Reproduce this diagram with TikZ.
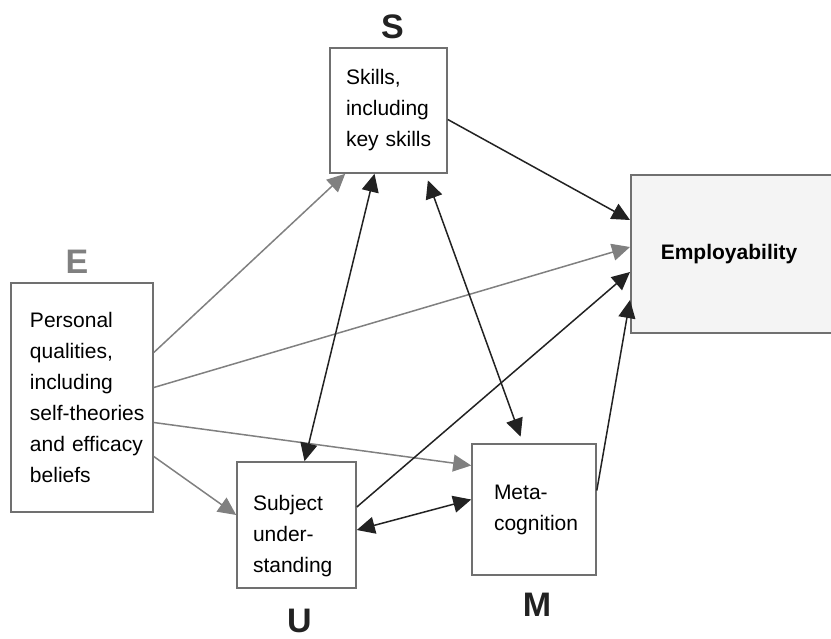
\documentclass[tikz,border=0pt]{standalone}
\usepackage{fontspec}
\setmainfont{Liberation Sans}
\usepackage{xcolor}
\usetikzlibrary{arrows.meta}
\definecolor{framegray}{HTML}{707070}
\definecolor{linegray}{HTML}{808080}
\definecolor{linedark}{HTML}{222222}
\definecolor{empfill}{HTML}{F4F4F4}
\hyphenpenalty=10000
\exhyphenpenalty=10000
\tikzstyle{box} = [rectangle, draw=framegray, line width=1.6pt, align=left,
    inner ysep=0pt, font=\fontsize{21}{31}\selectfont]
\tikzstyle{letter} = [font=\fontsize{34}{34}\selectfont\bfseries, text=linedark]
\tikzstyle{arrow} = [draw=linedark, line width=1.5pt, -{Triangle[length=18pt,width=17pt]}]
\tikzstyle{twoway} = [arrow, {Triangle[length=18pt,width=17pt]}-{Triangle[length=18pt,width=17pt]}]
\tikzstyle{greyarrow} = [arrow, draw=linegray]

\begin{document}
\begin{tikzpicture}[x=1pt, y=-1pt]
			\useasboundingbox (0,0) rectangle (831,638);
			% Place nodes
			\node [box, text width=104pt, inner xsep=19pt, minimum height=229pt] (personal) at (82,397.5) {Personal\\ qualities,\\ including\\ self-theories\\ and~efficacy\\ beliefs};
			\node [box, text width=85pt, inner xsep=16pt, minimum height=125pt] (skills) at (388.5,110.5) {Skills,\\ including\\ key~skills};
			\node [box, text width=87pt, inner xsep=16pt, minimum height=126pt] (subject) at (296.5,525) {\rule{0pt}{37pt}Subject\\ under-\\ standing};
			\node [box, text width=80pt, inner xsep=22pt, minimum height=131pt] (meta) at (534,509.5) {Meta-\\ cognition};
			\node [box, fill=empfill, anchor=west, text width=150pt, inner xsep=30pt, minimum height=158pt,
				font=\fontsize{21}{31}\selectfont\bfseries] (employability) at (630,254) {Employability};
			%
			\node [letter, text=linegray, above of=personal, node distance=136pt, xshift=-5pt] (eLetter) {E};
			\node [letter, above of=skills, node distance=83.5pt, xshift=4pt] (sLetter) {S};
			\node [letter, below of=subject, node distance=95.5pt, xshift=3pt] (uLetter) {U};
			\node [letter, below of=meta, node distance=95.5pt, xshift=3pt] (mLetter) {M};
			%
			\path [greyarrow] ([yshift=45pt]personal.east) -- ([xshift=16pt]skills.south west);
			\path [greyarrow] ([yshift=10pt]personal.east) -- ([yshift=7pt]employability.west);
			\path [greyarrow] ([yshift=-25pt]personal.east) -- ([yshift=44pt]meta.west);
			\path [greyarrow] ([yshift=-59pt]personal.east) -- ([yshift=10pt]subject.west);
			\path [twoway] ([xshift=-14pt]skills.south) -- ([xshift=8pt]subject.north);
			\path [twoway, shorten <=7pt, shorten >=7pt] ([xshift=37pt]skills.south) -- ([xshift=-11pt]meta.north);
			\path [twoway] ([yshift=-5pt]subject.east) -- ([yshift=10pt]meta.west);
			\path [arrow] ([yshift=18pt]subject.east) -- ([yshift=-18pt]employability.west);
			\path [arrow] ([yshift=-9pt]skills.east) -- ([yshift=34pt]employability.west);
			\path [arrow] ([yshift=19pt]meta.east) -- ([yshift=-46pt]employability.west);
\end{tikzpicture}
\end{document}
